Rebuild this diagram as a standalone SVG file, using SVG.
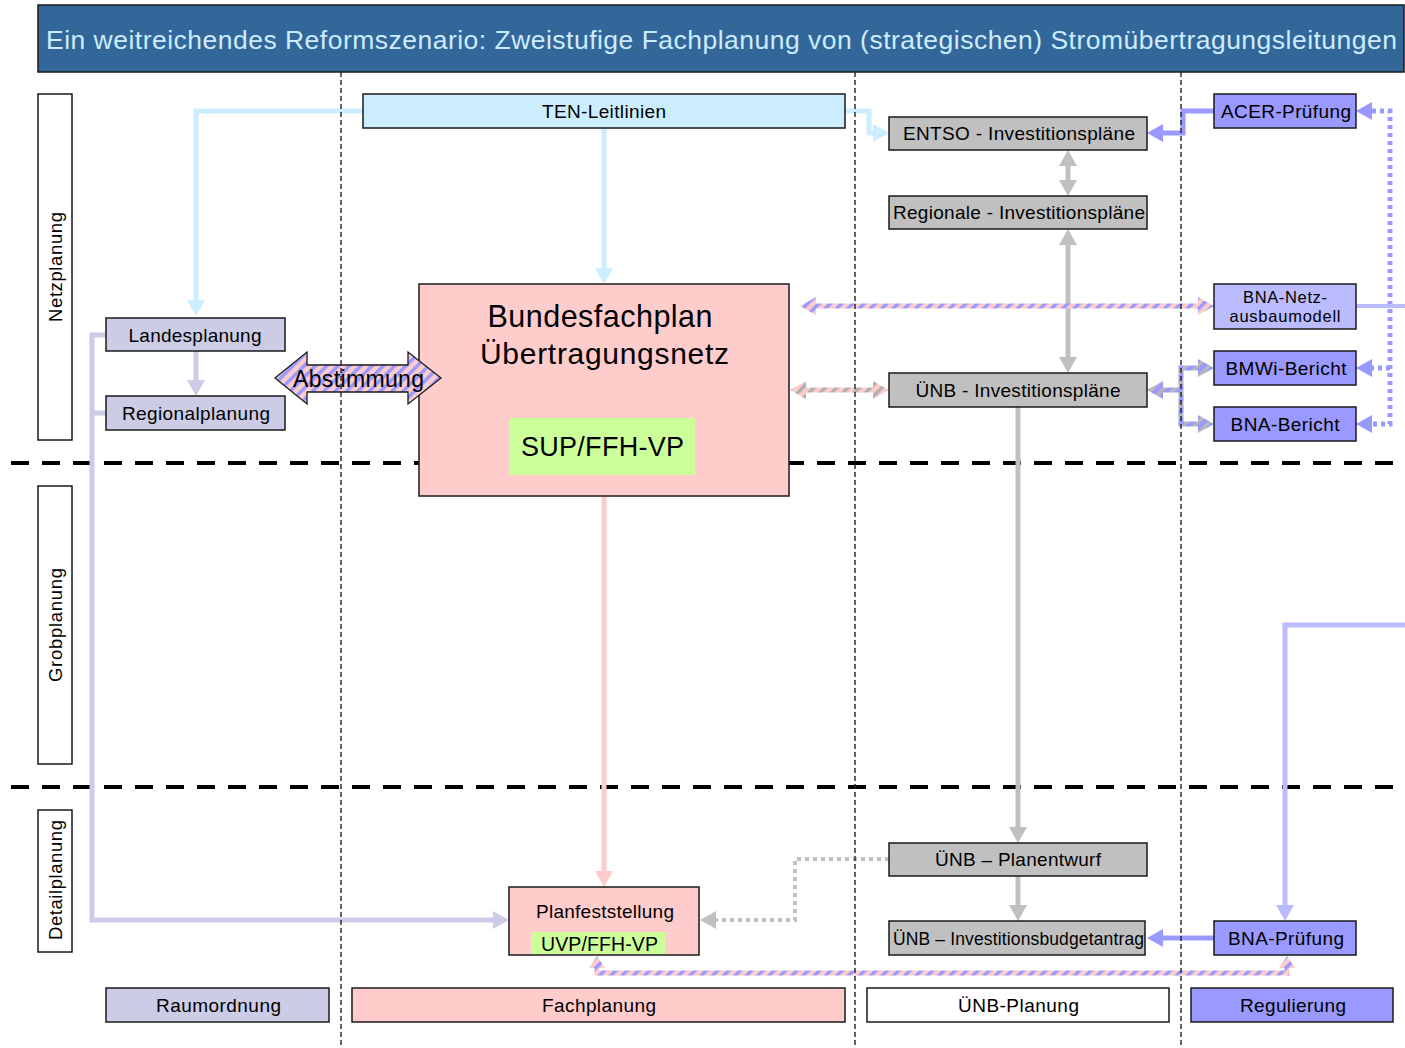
<svg xmlns="http://www.w3.org/2000/svg" width="1405" height="1048" viewBox="0 0 1405 1048">
<style>
text{font-family:"Liberation Sans",Arial,sans-serif;fill:#000;text-anchor:middle}
.box{stroke:#1a1a1a;stroke-width:1.5}
.gray{fill:#C0C0C0}.blue{fill:#9999FF}.lblue{fill:#CCECFF}.rp{fill:#CCCCE6}.pink{fill:#FFCCCC}.green{fill:#CCFF99}.lp{fill:#BBBBFF}
.t18{font-size:19px}.t17{font-size:18.5px}
.c{fill:none;stroke-width:5}
.vdot{stroke:#222;stroke-width:1.4;stroke-dasharray:5 3;fill:none}
.hdash{stroke:#000;stroke-width:4;stroke-dasharray:18 13;fill:none}
</style>
<defs>
<pattern id="hPB" patternUnits="userSpaceOnUse" width="8" height="8" patternTransform="rotate(45)"><rect width="8" height="8" fill="#FFCCCC"/><rect width="3.5" height="8" fill="#9999FF"/></pattern>
<pattern id="hPG" patternUnits="userSpaceOnUse" width="8" height="8" patternTransform="rotate(45)"><rect width="8" height="8" fill="#FFCCCC"/><rect width="3.5" height="8" fill="#B0B0B0"/></pattern>
<pattern id="hBG" patternUnits="userSpaceOnUse" width="8" height="8" patternTransform="rotate(45)"><rect width="8" height="8" fill="#9999FF"/><rect width="3.5" height="8" fill="#B8B8B8"/></pattern>
<marker id="mLB" viewBox="0 0 16 18" refX="1" refY="9" markerWidth="16" markerHeight="18" markerUnits="userSpaceOnUse" orient="auto-start-reverse"><path d="M0,0 L16,9 L0,18 z" fill="#CCECFF"/></marker>
<marker id="mGR" viewBox="0 0 16 18" refX="1" refY="9" markerWidth="16" markerHeight="18" markerUnits="userSpaceOnUse" orient="auto-start-reverse"><path d="M0,0 L16,9 L0,18 z" fill="#C0C0C0"/></marker>
<marker id="mBL" viewBox="0 0 16 18" refX="1" refY="9" markerWidth="16" markerHeight="18" markerUnits="userSpaceOnUse" orient="auto-start-reverse"><path d="M0,0 L16,9 L0,18 z" fill="#9999FF"/></marker>
<marker id="mLP" viewBox="0 0 16 18" refX="1" refY="9" markerWidth="16" markerHeight="18" markerUnits="userSpaceOnUse" orient="auto-start-reverse"><path d="M0,0 L16,9 L0,18 z" fill="#BBBBFF"/></marker>
<marker id="mRP" viewBox="0 0 16 18" refX="1" refY="9" markerWidth="16" markerHeight="18" markerUnits="userSpaceOnUse" orient="auto-start-reverse"><path d="M0,0 L16,9 L0,18 z" fill="#CCCCE6"/></marker>
<marker id="mPK" viewBox="0 0 16 18" refX="1" refY="9" markerWidth="16" markerHeight="18" markerUnits="userSpaceOnUse" orient="auto-start-reverse"><path d="M0,0 L16,9 L0,18 z" fill="#FFCCCC"/></marker>
</defs>
<rect width="1405" height="1048" fill="#fff"/>

<g id="title">
<rect x="38" y="5" width="1366" height="67" fill="#336699" stroke="#1a1a1a" stroke-width="1.5"/>
<text x="721.5" y="49" textLength="1351" style="font-size:26.5px;fill:#CCECFF">Ein weitreichendes Reformszenario: Zweistufige Fachplanung von (strategischen) Stromübertragungsleitungen</text>
</g>

<g id="phase-lines">
<path class="hdash" d="M11,463 H1405"/>
<path class="hdash" d="M11,787 H1405"/>
</g>

<g id="phase-labels">
<g id="lbl-netzplanung"><rect class="box" x="38" y="94" width="34" height="346" fill="#fff"/><text class="t17" transform="translate(62,267) rotate(-90)" textLength="110">Netzplanung</text></g>
<g id="lbl-grobplanung"><rect class="box" x="38" y="486" width="34" height="278" fill="#fff"/><text class="t17" transform="translate(62,625) rotate(-90)" textLength="114">Grobplanung</text></g>
<g id="lbl-detailplanung"><rect class="box" x="38" y="810" width="34" height="142" fill="#fff"/><text class="t17" transform="translate(62,880) rotate(-90)" textLength="120">Detailplanung</text></g>
</g>

<g id="connectors">
<path class="c" stroke="#CCECFF" d="M363,111 H196 V301" marker-end="url(#mLB)"/>
<path class="c" stroke="#CCECFF" d="M604,128 V269" marker-end="url(#mLB)"/>
<path class="c" stroke="#CCECFF" d="M845,111 H869 V133 H874" marker-end="url(#mLB)"/>
<path class="c" stroke="#9999FF" d="M1214,111 H1183 V133 H1162" marker-end="url(#mBL)"/>
<path class="c" stroke="#C0C0C0" d="M1068,165 V181" marker-start="url(#mGR)" marker-end="url(#mGR)"/>
<path class="c" stroke="#C0C0C0" d="M1068,244 V358" marker-start="url(#mGR)" marker-end="url(#mGR)"/>
<path class="c" stroke="url(#hPB)" d="M816,306 H1198"/>
<polygon fill="url(#hPB)" points="800,306 816,297 816,315"/>
<polygon fill="url(#hPB)" points="1214,306 1198,297 1198,315"/>
<path class="c" stroke="url(#hPG)" d="M806,390 H873"/>
<polygon fill="url(#hPG)" points="790,390 806,381 806,399"/>
<polygon fill="url(#hPG)" points="889,390 873,381 873,399"/>
<path class="c" stroke="url(#hBG)" d="M1163,390 H1181 V368 H1198 M1181,390 V424 H1198"/>
<polygon fill="url(#hBG)" points="1147,390 1163,381 1163,399"/>
<polygon fill="url(#hBG)" points="1214,368 1198,359 1198,377"/>
<polygon fill="url(#hBG)" points="1214,424 1198,415 1198,433"/>
<path fill="none" stroke="#9999FF" stroke-width="5" stroke-dasharray="4 4" d="M1372,111 H1390 V424 H1372 M1390,368 H1372"/>
<polygon fill="#9999FF" points="1356,111 1372,102 1372,120"/>
<polygon fill="#9999FF" points="1356,368 1372,359 1372,377"/>
<polygon fill="#9999FF" points="1356,424 1372,415 1372,433"/>
<path fill="none" stroke="#BBBBFF" stroke-width="4" d="M1356,306 H1405"/>
<path class="c" stroke="#BBBBFF" d="M1405,625 H1285 V906" marker-end="url(#mLP)"/>
<path class="c" stroke="#9999FF" d="M1214,938 H1162" marker-end="url(#mBL)"/>
<path class="c" stroke="#C0C0C0" d="M1018,407 V828" marker-end="url(#mGR)"/>
<path class="c" stroke="#C0C0C0" d="M1018,876 V906" marker-end="url(#mGR)"/>
<path fill="none" stroke="#C0C0C0" stroke-width="4" stroke-dasharray="4 4" d="M889,859 H795 V920 H715" marker-end="url(#mGR)"/>
<path class="c" stroke="#FFCCCC" stroke-width="4" d="M604,496 V872" marker-end="url(#mPK)"/>
<path class="c" stroke="#CCCCE6" d="M106,335 H92 V920 H494" marker-end="url(#mRP)"/>
<path class="c" stroke="#CCCCE6" d="M106,413 H92"/>
<path class="c" stroke="#CCCCE6" d="M196,351 V381" marker-end="url(#mRP)"/>
<path class="c" stroke="url(#hPB)" d="M597,967 V973 H1287 V967"/>
<polygon fill="url(#hPB)" points="597,956 589,968 605,968"/>
<polygon fill="url(#hPB)" points="1287,956 1279,968 1295,968"/>
</g>

<g id="ten-leitlinien"><rect class="box lblue" x="363" y="94" width="482" height="34"/><text class="t18" x="604" y="118" textLength="124">TEN-Leitlinien</text></g>
<g id="entso"><rect class="box gray" x="889" y="117" width="258" height="33"/><text class="t18" x="1019" y="140" textLength="232">ENTSO - Investitionspläne</text></g>
<g id="regionale"><rect class="box gray" x="889" y="196" width="258" height="33"/><text class="t18" x="1019" y="219" textLength="252">Regionale - Investitionspläne</text></g>
<g id="acer"><rect class="box blue" x="1214" y="94" width="142" height="34"/><text class="t18" x="1286" y="118" textLength="130">ACER-Prüfung</text></g>
<g id="bna-netz"><rect class="box lp" x="1214" y="284" width="142" height="45"/><text x="1285" y="303" textLength="84" style="font-size:16.5px">BNA-Netz-</text><text x="1285" y="322" textLength="111" style="font-size:16.5px">ausbaumodell</text></g>
<g id="bmwi"><rect class="box blue" x="1214" y="351" width="142" height="34"/><text class="t18" x="1286" y="375" textLength="121">BMWi-Bericht</text></g>
<g id="bna-bericht"><rect class="box blue" x="1214" y="407" width="142" height="34"/><text class="t18" x="1285" y="431" textLength="109">BNA-Bericht</text></g>
<g id="uenb-invest"><rect class="box gray" x="889" y="373" width="258" height="34"/><text class="t18" x="1018" y="397" textLength="205">ÜNB - Investitionspläne</text></g>
<g id="landesplanung"><rect class="box rp" x="106" y="318" width="179" height="33"/><text class="t18" x="195" y="342" textLength="133">Landesplanung</text></g>
<g id="regionalplanung"><rect class="box rp" x="106" y="396" width="179" height="34"/><text class="t18" x="196" y="420" textLength="148">Regionalplanung</text></g>
<g id="bundesfachplan"><rect class="box pink" x="419" y="284" width="370" height="212"/><text x="600" y="327" textLength="225" style="font-size:30.5px">Bundesfachplan</text><text x="604.5" y="364" textLength="249" style="font-size:30px">Übertragungsnetz</text><rect class="green" x="509" y="418" width="186" height="57"/><text x="602.5" y="456" textLength="163" style="font-size:27px">SUP/FFH-VP</text></g>
<g id="abstimmung"><polygon fill="url(#hPB)" stroke="#1a1a1a" stroke-width="1.3" points="275,378 307,352 307,365 408,365 408,352 441,378 408,404 408,392 307,392 307,404"/><text x="358.5" y="387" textLength="131" style="font-size:23px">Abstimmung</text></g>
<g id="planfeststellung"><rect class="box pink" x="509" y="887" width="190" height="68"/><text x="605" y="918" textLength="138" style="font-size:19px">Planfeststellung</text><rect class="green" x="531" y="932" width="134" height="22"/><text x="599.5" y="951" textLength="117" style="font-size:19.5px">UVP/FFH-VP</text></g>
<g id="planentwurf"><rect class="box gray" x="889" y="843" width="258" height="33"/><text class="t18" x="1018" y="866" textLength="166">ÜNB – Planentwurf</text></g>
<g id="budgetantrag"><rect class="box gray" x="889" y="921" width="256" height="34"/><text x="1018.5" y="945" textLength="251" style="font-size:17.5px">ÜNB – Investitionsbudgetantrag</text></g>
<g id="bna-pruefung"><rect class="box blue" x="1214" y="921" width="142" height="34"/><text class="t18" x="1286" y="945" textLength="116">BNA-Prüfung</text></g>

<g id="legend">
<g id="leg-raumordnung"><rect class="box rp" x="106" y="988" width="223" height="34"/><text class="t18" x="218.5" y="1012" textLength="125">Raumordnung</text></g>
<g id="leg-fachplanung"><rect class="box pink" x="352" y="988" width="493" height="34"/><text class="t18" x="599" y="1012" textLength="114">Fachplanung</text></g>
<g id="leg-uenb"><rect class="box" fill="#fff" x="867" y="988" width="302" height="34"/><text class="t18" x="1018.5" y="1012" textLength="121">ÜNB-Planung</text></g>
<g id="leg-regulierung"><rect class="box blue" x="1191" y="988" width="202" height="34"/><text class="t18" x="1293" y="1012" textLength="106">Regulierung</text></g>
</g>

<g id="column-lines">
<path class="vdot" d="M341,72 V1048"/>
<path class="vdot" d="M855,72 V1048"/>
<path class="vdot" d="M1181,72 V1048"/>
</g>
</svg>
